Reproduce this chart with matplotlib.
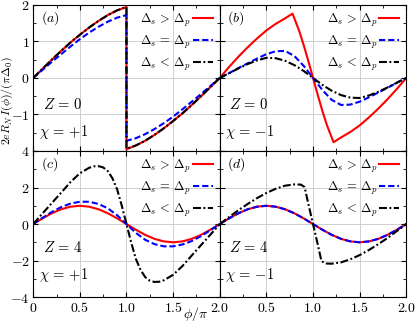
import matplotlib
matplotlib.use('Agg')
import matplotlib.pyplot as plt
from matplotlib.ticker import MultipleLocator

plt.rcParams['mathtext.fontset'] = 'cm'
plt.rcParams['font.family'] = 'serif'
plt.rcParams['xtick.direction'] = 'in'
plt.rcParams['ytick.direction'] = 'in'
plt.rcParams['xtick.top'] = True
plt.rcParams['ytick.right'] = True

labels = [r'$\Delta_s\,>\,\Delta_p$', r'$\Delta_s\,=\,\Delta_p$', r'$\Delta_s\,<\,\Delta_p$']

phi = [0, 0.1, 0.2, 0.3, 0.4, 0.5, 0.6, 0.7, 0.8, 0.9, 1.0,
       1.1, 1.2, 1.3, 1.4, 1.5, 1.6, 1.7, 1.8, 1.9, 2.0]

# (a) Z = 0, chi = +1  (jump at phi = pi)
phi_a = [0, 0.1, 0.2, 0.3, 0.4, 0.5, 0.6, 0.7, 0.8, 0.9, 1.0,
         1.0, 1.1, 1.2, 1.3, 1.4, 1.5, 1.6, 1.7, 1.8, 1.9, 2.0]
red_a = [0, 0.25, 0.50, 0.74, 0.97, 1.18, 1.38, 1.56, 1.72, 1.85, 1.94,
         -1.95, -1.85, -1.72, -1.56, -1.38, -1.18, -0.97, -0.74, -0.50, -0.25, 0]
blue_a = [0, 0.22, 0.44, 0.65, 0.86, 1.06, 1.24, 1.40, 1.54, 1.65, 1.72,
          -1.72, -1.65, -1.54, -1.40, -1.24, -1.06, -0.86, -0.65, -0.44, -0.22, 0]
black_a = [0, 0.25, 0.50, 0.74, 0.97, 1.18, 1.38, 1.56, 1.72, 1.85, 1.94,
           -1.94, -1.85, -1.72, -1.56, -1.38, -1.18, -0.97, -0.74, -0.50, -0.25, 0]

# (b) Z = 0, chi = -1
phi_b_red = [0, 0.1, 0.2, 0.3, 0.4, 0.5, 0.6, 0.7, 0.78, 0.85, 0.9, 0.95, 1.0,
             1.05, 1.1, 1.15, 1.22, 1.3, 1.4, 1.5, 1.6, 1.7, 1.8, 1.9, 2.0]
red_b = [0, 0.30, 0.58, 0.84, 1.08, 1.30, 1.48, 1.63, 1.76, 1.30, 0.90, 0.46, 0,
         -0.46, -0.90, -1.30, -1.76, -1.63, -1.48, -1.30, -1.08, -0.84, -0.58, -0.30, 0]
blue_b = [0, 0.13, 0.27, 0.40, 0.53, 0.65, 0.73, 0.74, 0.60, 0.33, 0,
          -0.33, -0.60, -0.74, -0.73, -0.65, -0.53, -0.40, -0.27, -0.13, 0]
black_b = [0, 0.13, 0.26, 0.38, 0.48, 0.55, 0.54, 0.47, 0.35, 0.19, 0,
           -0.19, -0.35, -0.47, -0.54, -0.55, -0.48, -0.38, -0.26, -0.13, 0]

# (c) Z = 4, chi = +1
red_c = [0, 0.31, 0.59, 0.81, 0.95, 1.00, 0.95, 0.81, 0.59, 0.31, 0,
         -0.31, -0.59, -0.81, -0.95, -1.00, -0.95, -0.81, -0.59, -0.31, 0]
blue_c = [0, 0.34, 0.66, 0.93, 1.12, 1.22, 1.22, 1.10, 0.86, 0.48, 0,
          -0.48, -0.86, -1.10, -1.22, -1.22, -1.12, -0.93, -0.66, -0.34, 0]
phi_c_blk = [0, 0.1, 0.2, 0.3, 0.4, 0.5, 0.6, 0.65, 0.7, 0.75, 0.8, 0.85, 0.9, 0.95, 1.0,
             1.05, 1.1, 1.15, 1.2, 1.25, 1.3, 1.35, 1.4, 1.5, 1.6, 1.7, 1.8, 1.9, 2.0]
black_c = [0, 0.58, 1.15, 1.72, 2.30, 2.78, 3.08, 3.16, 3.17, 3.10, 2.90, 2.50, 1.90, 1.00, 0,
           -1.00, -1.90, -2.50, -2.90, -3.10, -3.17, -3.16, -3.08, -2.78, -2.30, -1.72, -1.15, -0.58, 0]

# (d) Z = 4, chi = -1
red_d = [0, 0.31, 0.59, 0.81, 0.95, 1.00, 0.95, 0.81, 0.59, 0.31, 0,
         -0.31, -0.59, -0.81, -0.95, -1.00, -0.95, -0.81, -0.59, -0.31, 0]
blue_d = [0, 0.31, 0.59, 0.81, 0.95, 1.00, 0.95, 0.81, 0.59, 0.31, 0,
          -0.31, -0.59, -0.81, -0.95, -1.00, -0.95, -0.81, -0.59, -0.31, 0]
phi_d_blk = [0, 0.1, 0.2, 0.3, 0.4, 0.5, 0.6, 0.7, 0.8, 0.87, 0.91, 0.95, 1.0,
             1.05, 1.09, 1.13, 1.2, 1.3, 1.4, 1.5, 1.6, 1.7, 1.8, 1.9, 2.0]
black_d = [0, 0.38, 0.76, 1.10, 1.42, 1.70, 1.93, 2.10, 2.17, 2.16, 2.02, 1.10, 0,
           -1.10, -2.02, -2.16, -2.17, -2.10, -1.93, -1.70, -1.42, -1.10, -0.76, -0.38, 0]

fig, axes = plt.subplots(2, 2, figsize=(4.15, 3.24), dpi=100)
fig.subplots_adjust(left=0.080, right=0.979, top=0.985, bottom=0.083, wspace=0, hspace=0)

panels = [
    (axes[0, 0], (phi_a, red_a), (phi_a, blue_a), (phi_a, black_a), '(a)', r'Z\,=\,0', r'\chi\,=\,{+1}'),
    (axes[0, 1], (phi_b_red, red_b), (phi, blue_b), (phi, black_b), '(b)', r'Z\,=\,0', r'\chi\,=\,{-1}'),
    (axes[1, 0], (phi, red_c), (phi, blue_c), (phi_c_blk, black_c), '(c)', r'Z\,=\,4', r'\chi\,=\,{+1}'),
    (axes[1, 1], (phi, red_d), (phi, blue_d), (phi_d_blk, black_d), '(d)', r'Z\,=\,4', r'\chi\,=\,{-1}'),
]

lw = 1.5
for i, (ax, r, b, k, tag, ztxt, chitxt) in enumerate(panels):
    ax.plot(r[0], r[1], color='#ff0000', lw=lw, label=labels[0])
    ax.plot(b[0], b[1], color='#0000ff', lw=lw, dashes=(3.0, 1.4), label=labels[1])
    ax.plot(k[0], k[1], color='black', lw=lw, dashes=(3.8, 1.2, 0.9, 1.2), label=labels[2])
    ax.set_xlim(0, 2)
    ax.xaxis.set_major_locator(MultipleLocator(0.5))
    ax.xaxis.set_minor_locator(MultipleLocator(0.25))
    if i < 2:
        ax.set_ylim(-2, 2)
        ax.yaxis.set_major_locator(MultipleLocator(1))
        ax.yaxis.set_minor_locator(MultipleLocator(0.5))
        ax.set_yticks([-2, -1, 0, 1, 2])
        ax.set_yticklabels(['', '$-1$', '$0$', '$1$', '$2$'])
        ax.tick_params(labelbottom=False)
        ty1, ty2 = 0.32, 0.13
    else:
        ax.set_ylim(-4, 4)
        ax.yaxis.set_major_locator(MultipleLocator(2))
        ax.yaxis.set_minor_locator(MultipleLocator(1))
        ax.set_yticks([-4, -2, 0, 2, 4])
        ax.set_yticklabels(['$-4$', '$-2$', '$0$', '$2$', '$4$'])
        ax.set_xticks([0, 0.5, 1.0, 1.5, 2.0])
        if i == 2:
            ax.set_xticklabels(['$0$', '$0.5$', '$1.0$', '$1.5$', '$2.0$'])
        else:
            ax.set_xticklabels(['', '$0.5$', '$1.0$', '$1.5$', '$2.0$'])
        ty1, ty2 = 0.34, 0.15
    if i % 2 == 1:
        ax.tick_params(labelleft=False)
    ax.tick_params(which='major', length=3.5, width=0.8, labelsize=10, pad=2.5)
    ax.tick_params(which='minor', length=2, width=0.6)
    ax.grid(True, which='major', color='#c8c8c8', lw=0.6)
    ax.set_axisbelow(True)
    ax.text(0.04, 0.91, '$' + tag + '$', transform=ax.transAxes, fontsize=10, va='center')
    ax.text(0.05, ty1, '$' + ztxt + '$', transform=ax.transAxes, fontsize=10.5, va='center')
    ax.text(0.03, ty2, '$' + chitxt + '$', transform=ax.transAxes, fontsize=10.5, va='center')
    ax.legend(loc='upper right', frameon=False, markerfirst=False, fontsize=9,
              handlelength=1.6, handletextpad=0.15, labelspacing=0.4, borderaxespad=0.3,
              borderpad=0.25)

fig.text(0.018, 0.69, r'$2eR_N\,I(\phi)/(\pi\Delta_0)$', rotation=90, va='center', ha='center', fontsize=8.5)
fig.text(0.47, 0.03, r'$\phi/\pi$', va='center', ha='center', fontsize=10)

fig.savefig('out.png', dpi=100)
